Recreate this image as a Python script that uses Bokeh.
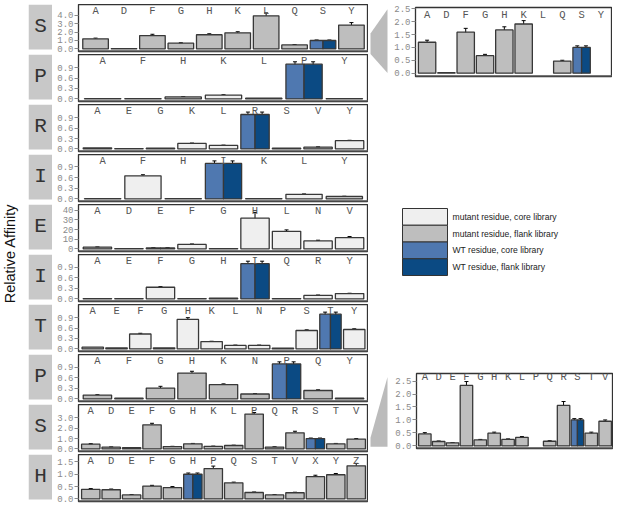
from bokeh.plotting import figure
from bokeh.models import (ColumnDataSource, Range1d, FixedTicker, PrintfTickFormatter,
                          Whisker, TeeHead, Spacer, Span)
from bokeh.layouts import row, column
from bokeh.core.properties import value
from bokeh.embed import file_html
from bokeh.resources import INLINE

# ---------------- data ----------------
WT_LETTERS = ["S", "P", "R", "I", "E", "I", "T", "P", "S", "H"]

RES_1 = ["A", "D", "F", "G", "H", "K", "L", "Q", "S", "Y"]
VAL_1 = [1.20, 0.02, 1.59, 0.68, 1.68, 1.91, 3.93, 0.47, 1.00, 2.83]
ERR_1 = [0.08, 0.0, 0.15, 0.05, 0.12, 0.13, 0.35, 0.03, 0.06, 0.30]
LIB_1 = ["f", "f", "f", "f", "f", "f", "f", "f", "w", "f"]

RES_2 = ["A", "F", "H", "K", "L", "P", "Y"]
VAL_2 = [0.01, 0.01, 0.056, 0.11, 0.02, 1.00, 0.01]
ERR_2 = [0.0, 0.0, 0.005, 0.01, 0.0, 0.07, 0.0]
LIB_2 = ["f", "f", "f", "c", "f", "w", "f"]

RES_3 = ["A", "E", "G", "K", "L", "R", "S", "V", "Y"]
VAL_3 = [0.03, 0.01, 0.02, 0.16, 0.10, 1.00, 0.02, 0.05, 0.24]
ERR_3 = [0.0, 0.0, 0.0, 0.01, 0.01, 0.07, 0.0, 0.01, 0.01]
LIB_3 = ["c", "c", "c", "c", "c", "w", "c", "f", "c"]

RES_4 = ["A", "F", "H", "I", "K", "L", "Y"]
VAL_4 = [0.01, 0.65, 0.01, 1.00, 0.01, 0.13, 0.07]
ERR_4 = [0.0, 0.03, 0.0, 0.07, 0.0, 0.01, 0.005]
LIB_4 = ["c", "c", "c", "w", "c", "c", "f"]

RES_5 = ["A", "D", "E", "F", "G", "H", "L", "N", "V"]
VAL_5 = [1.8, 0.3, 1.0, 4.6, 0.3, 31.8, 18.2, 8.3, 11.6]
ERR_5 = [0.2, 0.0, 0.05, 0.5, 0.0, 6.0, 1.5, 0.7, 1.2]
LIB_5 = ["f", "c", "w", "c", "c", "c", "c", "c", "c"]

RES_6 = ["A", "E", "F", "G", "H", "I", "Q", "R", "Y"]
VAL_6 = [0.01, 0.01, 0.33, 0.01, 0.02, 1.00, 0.01, 0.10, 0.15]
ERR_6 = [0.0, 0.0, 0.02, 0.0, 0.0, 0.07, 0.0, 0.01, 0.01]
LIB_6 = ["c", "c", "c", "c", "c", "w", "c", "c", "c"]

RES_7 = ["A", "E", "F", "G", "H", "K", "L", "N", "P", "S", "T", "Y"]
VAL_7 = [0.05, 0.03, 0.43, 0.03, 0.85, 0.21, 0.10, 0.10, 0.02, 0.53, 1.00, 0.56]
ERR_7 = [0.0, 0.0, 0.02, 0.0, 0.05, 0.01, 0.01, 0.01, 0.0, 0.02, 0.06, 0.02]
LIB_7 = ["f", "c", "c", "c", "c", "c", "c", "c", "c", "c", "w", "c"]

RES_8 = ["A", "F", "G", "H", "K", "N", "P", "Q", "Y"]
VAL_8 = [0.11, 0.02, 0.31, 0.74, 0.41, 0.14, 1.00, 0.24, 0.02]
ERR_8 = [0.01, 0.0, 0.05, 0.05, 0.02, 0.01, 0.06, 0.02, 0.0]
LIB_8 = ["f", "f", "f", "f", "f", "f", "w", "f", "f"]

RES_9 = ["A", "D", "E", "F", "G", "H", "K", "L", "P", "Q", "R", "S", "T", "V"]
VAL_9 = [0.46, 0.17, 0.12, 2.33, 0.23, 0.49, 0.25, 0.33, 3.37, 0.18, 1.56, 1.00, 0.49, 0.95]
ERR_9 = [0.05, 0.02, 0.01, 0.15, 0.02, 0.04, 0.02, 0.03, 0.15, 0.02, 0.15, 0.05, 0.04, 0.05]
LIB_9 = ["f", "f", "f", "f", "f", "f", "f", "f", "f", "f", "f", "w", "f", "f"]

RES_10 = ["A", "D", "E", "F", "G", "H", "P", "Q", "S", "T", "V", "X", "Y", "Z"]
VAL_10 = [0.39, 0.37, 0.16, 0.52, 0.46, 1.00, 1.23, 0.65, 0.26, 0.16, 0.25, 0.90, 0.98, 1.34]
ERR_10 = [0.03, 0.03, 0.01, 0.03, 0.04, 0.05, 0.10, 0.03, 0.02, 0.01, 0.02, 0.06, 0.05, 0.10]
LIB_10 = ["f", "f", "f", "f", "f", "w", "f", "f", "f", "f", "f", "f", "f", "f"]

LEGEND_LABELS = ["mutant residue, core library", "mutant residue, flank library",
                 "WT residue, core library", "WT residue, flank library"]
Y_LABEL = "Relative Affinity"
INSET_LIMIT = 2.5

# ---------------- styles ----------------
C_CORE = "#efefef"
C_FLANK = "#bebebe"
C_WT_CORE = "#4f78b0"
C_WT_FLANK = "#0b4a83"
EDGE = "#383838"
MONO = "Liberation Mono"
SANS = "Liberation Sans"

PANELS = [
    (RES_1, VAL_1, ERR_1, LIB_1, (-0.11, 5.28), [0, 1, 2, 3, 4], "%.1f"),
    (RES_2, VAL_2, ERR_2, LIB_2, (-0.01, 1.28), [0, 0.3, 0.6, 0.9], "%.1f"),
    (RES_3, VAL_3, ERR_3, LIB_3, (-0.05, 1.29), [0, 0.3, 0.6, 0.9], "%.1f"),
    (RES_4, VAL_4, ERR_4, LIB_4, (-0.04, 1.25), [0, 0.3, 0.6, 0.9], "%.1f"),
    (RES_5, VAL_5, ERR_5, LIB_5, (-1.0, 46.0), [0, 10, 20, 30, 40], "%d"),
    (RES_6, VAL_6, ERR_6, LIB_6, (-0.03, 1.26), [0, 0.3, 0.6, 0.9], "%.1f"),
    (RES_7, VAL_7, ERR_7, LIB_7, (-0.03, 1.28), [0, 0.3, 0.6, 0.9], "%.1f"),
    (RES_8, VAL_8, ERR_8, LIB_8, (-0.03, 1.27), [0, 0.3, 0.6, 0.9], "%.1f"),
    (RES_9, VAL_9, ERR_9, LIB_9, (-0.13, 4.3), [0, 1, 2, 3], "%.1f"),
    (RES_10, VAL_10, ERR_10, LIB_10, (-0.06, 1.8), [0, 0.5, 1.0, 1.5], "%.1f"),
]

PANEL_W, PANEL_H, PANEL_BL = 316, 50, 26
PANEL_MB = 3
STRIP_W = 24
TOP_PAD = 4


def bar_panel(res, val, err, lib, yr, ticks, fmt, width, height, bl,
              mt=0, mb=0, label_px=6.0, clip=None):
    n = len(res)
    frame_h = height - mt - mb
    y0, y1 = yr
    # keep the zero tick a little above the frame bottom so its label fits
    y0 = min(y0, -2.6 * y1 / (frame_h - 2.6))
    p = figure(width=width, height=height, x_range=Range1d(-0.6, n - 0.4),
               y_range=Range1d(y0, y1), output_backend="svg", toolbar_location=None,
               x_axis_location=None, y_axis_location="left", min_border=0)
    p.min_border_left = bl
    p.min_border_top = mt
    p.min_border_bottom = mb
    p.min_border_right = 0
    p.grid.visible = False
    p.outline_line_color = "#333333"
    p.outline_line_width = 1.3
    p.background_fill_color = "white"
    p.border_fill_color = "white"

    colors = {"c": C_CORE, "f": C_FLANK}
    xs, tops, ws, cs = [], [], [], []
    ex, eu, el = [], [], []
    for i, (v, e, l) in enumerate(zip(val, err, lib)):
        if clip is not None and v > clip:
            continue
        if l == "w":
            parts = [(-0.225, C_WT_CORE), (0.225, C_WT_FLANK)]
            w = 0.45
        else:
            parts = [(0.0, colors[l])]
            w = 0.9
        for dx, c in parts:
            xs.append(i + dx)
            tops.append(v)
            ws.append(w)
            cs.append(c)
            if e > 0:
                ex.append(i + dx)
                eu.append(v + e)
                el.append(v - e)
    src = ColumnDataSource(dict(x=xs, top=tops, w=ws, c=cs))
    p.vbar(x="x", top="top", width="w", bottom=0, fill_color="c",
           line_color=EDGE, line_width=1.3, source=src)
    esrc = ColumnDataSource(dict(x=ex, u=eu, l=el))
    wk = Whisker(source=esrc, base="x", upper="u", lower="l", dimension="height",
                 line_color="black", line_width=1,
                 upper_head=TeeHead(size=4, line_color="black", line_width=1),
                 lower_head=TeeHead(size=4, line_color="black", line_width=1))
    p.add_layout(wk)
    p.add_layout(Span(location=y0, dimension="width", line_color="#5a5a5a", line_width=2.5))

    ylab = y1 - label_px * (y1 - y0) / frame_h
    p.text(x=list(range(n)), y=[ylab] * n, text=res, text_align="center",
           text_baseline="middle", text_font=value(MONO), text_font_size="10.5px",
           text_color="#555555")

    ax = p.yaxis[0]
    ax.ticker = FixedTicker(ticks=ticks)
    ax.formatter = PrintfTickFormatter(format=fmt)
    ax.major_label_text_font = MONO
    ax.major_label_text_font_size = "9px"
    ax.major_label_text_color = "#8a8a8a"
    ax.major_tick_line_color = "#8a8a8a"
    ax.major_tick_in = 0
    ax.major_tick_out = 4
    ax.minor_tick_line_color = None
    ax.axis_line_color = None
    ax.major_label_standoff = 1
    return p


def blank(width, height, xr, yr):
    p = figure(width=width, height=height, x_range=Range1d(*xr), y_range=Range1d(*yr),
               output_backend="svg", toolbar_location=None, x_axis_location=None,
               y_axis_location=None, min_border=0)
    p.grid.visible = False
    p.outline_line_color = None
    p.background_fill_color = "white"
    p.border_fill_color = "white"
    return p


# ---------------- left column ----------------
rows = [Spacer(width=STRIP_W + PANEL_W, height=TOP_PAD)]
for letter, spec in zip(WT_LETTERS, PANELS):
    s = blank(STRIP_W, PANEL_H, (0, 1), (0, PANEL_H))
    s.quad(left=0, right=1, top=PANEL_H, bottom=PANEL_MB - 1, fill_color="#c8c8c8",
           line_color=None)
    s.text(x=[0.5], y=[(PANEL_H + PANEL_MB) / 2], text=[letter], text_align="center",
           text_baseline="middle", text_font=value(MONO), text_font_size="21px",
           text_color="#333333")
    p = bar_panel(*spec, width=PANEL_W, height=PANEL_H, bl=PANEL_BL, mb=PANEL_MB)
    rows.append(row(s, p))
left_col = column(*rows)

# y label
TOTAL_H = TOP_PAD + 10 * PANEL_H
yl = blank(28, TOTAL_H, (0, 28), (TOTAL_H, 0))
yl.text(x=[9.5], y=[253], text=[Y_LABEL], angle=1.5708,
        text_align="center", text_baseline="middle", text_font=value(SANS),
        text_font_size="14.5px", text_color="#111111")

# ---------------- right column ----------------
TRI_C = "#bbbbbb"
top_tri = blank(20, 77, (0, 20), (77, 0))
top_tri.patch(x=[2, 19, 19, 2], y=[29, 2, 73, 52], fill_color=TRI_C, line_color=None)
top_inset = bar_panel(RES_1, VAL_1, ERR_1, LIB_1, (-0.13, 2.55), [0, 0.5, 1.0, 1.5, 2.0, 2.5],
                      "%.1f", width=224, height=77, bl=27, mt=4, mb=4, label_px=7.0,
                      clip=INSET_LIMIT)

bot_tri = blank(20, 83, (0, 20), (83, 0))
bot_tri.patch(x=[2, 19, 19, 2], y=[71, 4, 81, 81], fill_color=TRI_C, line_color=None)
bot_inset = bar_panel(RES_9, VAL_9, ERR_9, LIB_9, (-0.04, 2.79), [0, 0.5, 1.0, 1.5, 2.0, 2.5],
                      "%.1f", width=225, height=83, bl=28, mt=4, mb=4, label_px=3.5,
                      clip=INSET_LIMIT)

# legend
leg = blank(245, 85, (0, 245), (85, 0))
kh = 16.75
ktop = [8 + k * kh for k in range(4)]
leg.quad(left=34, right=79, top=ktop, bottom=[t + kh for t in ktop],
         fill_color=[C_CORE, C_FLANK, C_WT_CORE, C_WT_FLANK], line_color="#333333",
         line_width=1)
leg.text(x=[84] * 4, y=[t + kh / 2 for t in ktop], text=LEGEND_LABELS,
         text_align="left", text_baseline="middle", text_font=value(SANS),
         text_font_size="8.6px", text_color="#222222")

right_col = column(Spacer(width=245, height=3), row(top_tri, top_inset),
                   Spacer(width=245, height=120), leg,
                   Spacer(width=245, height=84), row(bot_tri, bot_inset))

layout = row(yl, left_col, right_col)

open("out.html", "w").write(file_html(layout, INLINE))
